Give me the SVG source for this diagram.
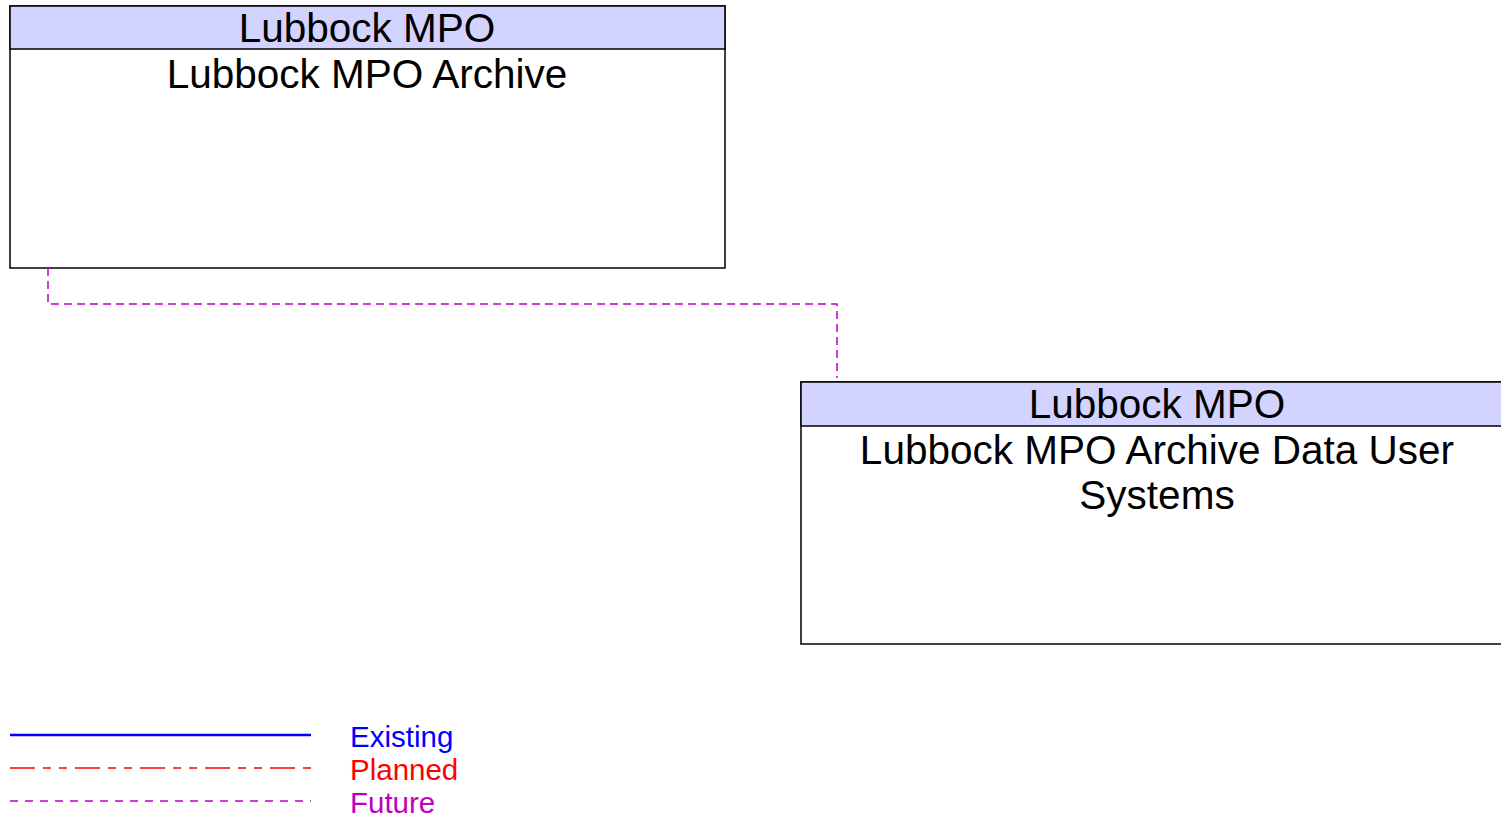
<svg xmlns="http://www.w3.org/2000/svg" width="1501" height="818" viewBox="0 0 1501 818">
<style>
.box{fill:#fff;stroke:#000;stroke-width:1.5}
.hdr{fill:#d3d3ff;stroke:#000;stroke-width:1.5}
.t{font-family:"Liberation Sans",Arial,sans-serif;font-size:40.5px;fill:#000;text-anchor:middle}
.lg{font-family:"Liberation Sans",Arial,sans-serif;font-size:29.5px}
.future{fill:none;stroke:#c000c0;stroke-width:1.5;stroke-dasharray:8,5}
</style>
<rect width="1501" height="818" fill="#fff"/>
<g id="node-archive">
<rect class="box" x="10" y="6" width="715" height="262"/>
<rect class="hdr" x="10" y="6" width="715" height="43"/>
<text class="t" x="367" y="42">Lubbock MPO</text>
<text class="t" x="367" y="88">Lubbock MPO Archive</text>
</g>
<g id="node-users">
<rect class="box" x="801" y="382" width="720" height="262"/>
<rect class="hdr" x="801" y="382" width="720" height="44"/>
<text class="t" x="1157" y="418">Lubbock MPO</text>
<text class="t" x="1157" y="464">Lubbock MPO Archive Data User</text>
<text class="t" x="1157" y="509">Systems</text>
</g>
<g id="connectors">
<polyline class="future" points="48,268 48,304 837,304 837,378"/>
</g>
<g id="legend">
<line x1="10" y1="735" x2="311" y2="735" stroke="#0000ff" stroke-width="2.5"/>
<line x1="10" y1="768" x2="311" y2="768" stroke="#ff0000" stroke-width="1.5" stroke-dasharray="25,8,8,8,8,8"/>
<line x1="10" y1="801" x2="311" y2="801" stroke="#c000c0" stroke-width="1.5" stroke-dasharray="8,7"/>
<text class="lg" x="350" y="747" fill="#0000ff">Existing</text>
<text class="lg" x="350" y="780" fill="#ff0000">Planned</text>
<text class="lg" x="350" y="813" fill="#c000c0">Future</text>
</g>
</svg>
